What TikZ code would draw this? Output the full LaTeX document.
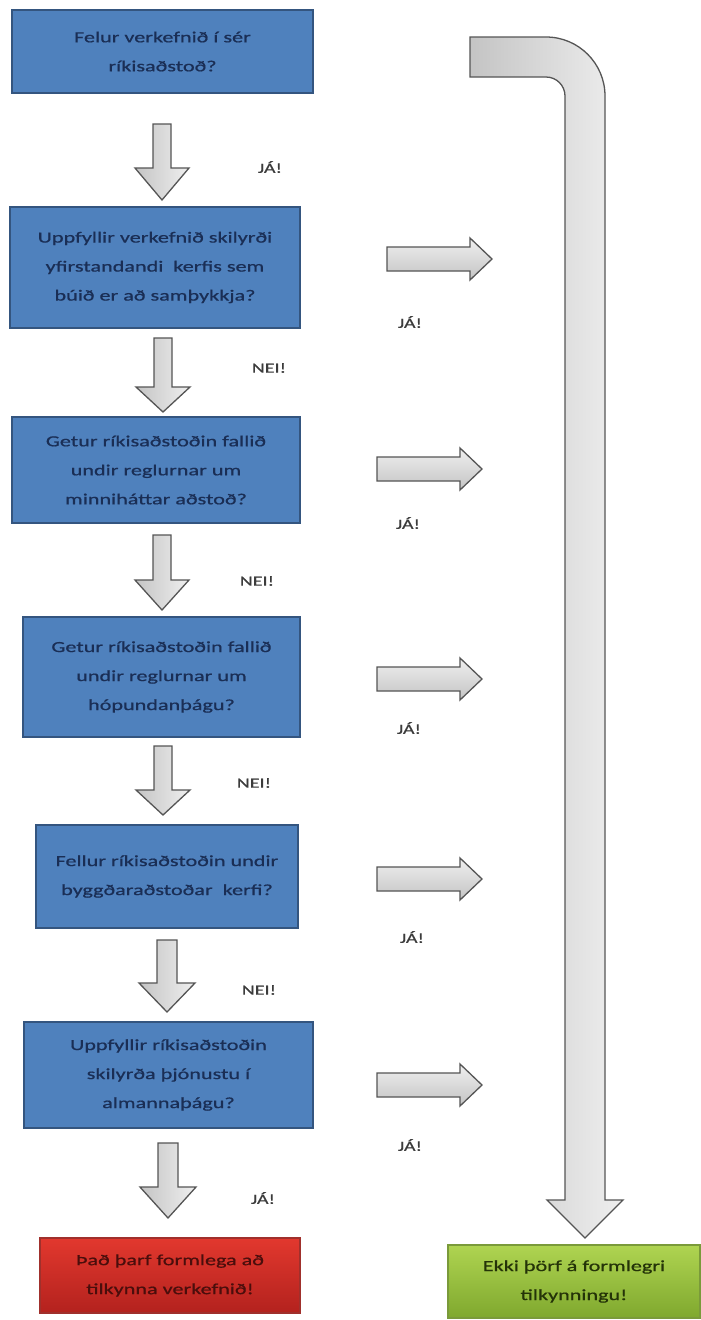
\documentclass[tikz,border=0pt]{standalone}
\usepackage{fontspec}
\setmainfont{Carlito}
\newfontfamily\boxfont[FakeStretch=1.43,FakeBold=0.7]{Carlito}
\definecolor{boxblue}{HTML}{4F81BD}
\definecolor{boxedge}{HTML}{34557F}
\definecolor{boxtext}{HTML}{1A2E55}
\definecolor{redtop}{HTML}{E2382E}
\definecolor{redbot}{HTML}{B3221E}
\definecolor{rededge}{HTML}{A0302C}
\definecolor{redtext}{HTML}{4A0E0C}
\definecolor{greentop}{HTML}{AFD451}
\definecolor{greenbot}{HTML}{7FA82E}
\definecolor{greenedge}{HTML}{7A9A3A}
\definecolor{greentext}{HTML}{243308}
\definecolor{arrowedge}{HTML}{555555}
\definecolor{arrowdark}{HTML}{C4C4C4}
\definecolor{arrowlight}{HTML}{EFEFEF}
\definecolor{lbltext}{HTML}{3C3C3C}
\tikzset{
  qbox/.style={draw=boxedge, line width=1.3pt, fill=boxblue, align=center,
    text=boxtext, font=\boxfont\fontsize{15.5}{29}\selectfont, inner sep=0pt},
  lbl/.style={font=\boxfont\fontsize{14}{16}\selectfont, text=lbltext, inner sep=0pt},
  dblock/.style={draw=arrowedge, line width=1.3pt, line join=miter,
    left color=arrowdark, right color=arrowlight},
  rblock/.style={draw=arrowedge, line width=1.3pt, line join=miter,
    top color=arrowlight, bottom color=arrowdark},
}
% cx, top, head start, tip, half shaft, half head
\newcommand\blkdown[6]{%
  \draw[dblock] ({#1-#5},#2) -- ({#1+#5},#2) -- ({#1+#5},#3) -- ({#1+#6},#3)
    -- (#1,#4) -- ({#1-#6},#3) -- ({#1-#5},#3) -- cycle;}
% cy, tail, head start, tip, half shaft, half head
\newcommand\blkright[6]{%
  \draw[rblock] (#2,{#1-#5}) -- (#3,{#1-#5}) -- (#3,{#1-#6}) -- (#4,#1)
    -- (#3,{#1+#6}) -- (#3,{#1+#5}) -- (#2,{#1+#5}) -- cycle;}
\begin{document}
\begin{tikzpicture}[x=1pt,y=-1pt]
\fill[white] (0,0) rectangle (701,1320);
\useasboundingbox (0,0) rectangle (701,1320);

% question boxes
\node[qbox, minimum width=301pt, minimum height=83pt] (b1) at (162.5,51.5)
  {Felur verkefnið í sér\\ríkisaðstoð?};
\node[qbox, minimum width=290pt, minimum height=121pt] (b2) at (155,267.5)
  {Uppfyllir verkefnið skilyrði\\yfirstandandi\ \ kerfis sem\\búið er að samþykkja?};
\node[qbox, minimum width=288pt, minimum height=106pt] (b3) at (156,470)
  {Getur ríkisaðstoðin fallið\\undir reglurnar um\\minniháttar aðstoð?};
\node[qbox, minimum width=277pt, minimum height=120pt] (b4) at (161.5,677)
  {Getur ríkisaðstoðin fallið\\undir reglurnar um\\hópundanþágu?};
\node[qbox, minimum width=262pt, minimum height=103pt] (b5) at (167,876.5)
  {Fellur ríkisaðstoðin undir\\byggðaraðstoðar\ \ kerfi?};
\node[qbox, minimum width=289pt, minimum height=106pt] (b6) at (168.5,1075)
  {Uppfyllir ríkisaðstoðin\\skilyrða þjónustu í\\almannaþágu?};
\node[qbox, draw=rededge, top color=redtop, bottom color=redbot, text=redtext,
  minimum width=260pt, minimum height=75pt] (notify) at (170,1275.5)
  {Það þarf formlega að\\tilkynna verkefnið!};
\node[qbox, draw=greenedge, top color=greentop, bottom color=greenbot, text=greentext,
  minimum width=252pt, minimum height=73pt] (nonotify) at (574,1281.5)
  {Ekki þörf á formlegri\\tilkynningu!};

% down arrows
\blkdown{162}{124}{168}{200}{9}{27}
\blkdown{163}{338}{387}{412}{9}{27}
\blkdown{162}{535}{580}{610}{9}{27}
\blkdown{163}{746}{790}{815}{9}{27}
\blkdown{167}{940}{983}{1012}{10}{28}
\blkdown{168}{1143}{1187}{1218}{10}{28}

% right arrows
\blkright{259}{387}{470}{492}{12}{21}
\blkright{469}{377}{460}{482}{12}{21}
\blkright{679}{377}{460}{482}{12}{21}
\blkright{879}{377}{460}{482}{12}{21}
\blkright{1085}{377}{460}{482}{12}{21}

% big bent arrow
\draw[dblock] (470,37) -- (546,37) arc[start angle=-90,end angle=0,radius=59]
  -- (605,1200) -- (623,1200) -- (585,1238) -- (547,1200) -- (565,1200)
  -- (565,96) arc[start angle=0,end angle=-90,radius=19] -- (470,77) -- cycle;

% labels
\node[lbl] (l1) at (270,167) {JÁ!};
\node[lbl] (l2) at (269,368) {NEI!};
\node[lbl] (l3) at (257,581) {NEI!};
\node[lbl] (l4) at (254,783) {NEI!};
\node[lbl] (l5) at (259,990) {NEI!};
\node[lbl] (l6) at (263,1198) {JÁ!};
\node[lbl] (r2) at (410,322) {JÁ!};
\node[lbl] (r3) at (408,523) {JÁ!};
\node[lbl] (r4) at (409,728) {JÁ!};
\node[lbl] (r5) at (412,937) {JÁ!};
\node[lbl] (r6) at (410,1145) {JÁ!};
\end{tikzpicture}
\end{document}
